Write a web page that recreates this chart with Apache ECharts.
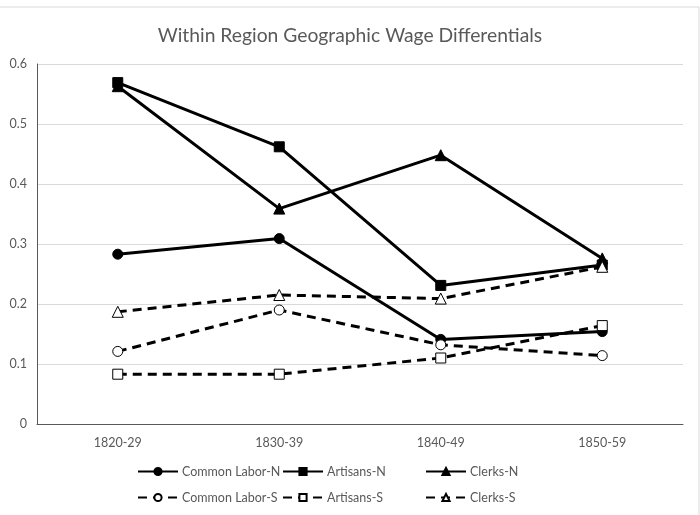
<!DOCTYPE html>
<html>
<head>
<meta charset="utf-8">
<script src="https://cdn.jsdelivr.net/npm/echarts@6/dist/echarts.min.js"></script>
<style>
  html, body { margin: 0; padding: 0; background: #fff; }
  #chart { width: 700px; height: 515px; }
</style>
</head>
<body>
<div id="chart"></div>
<script>
const periods = ["1820-29", "1830-39", "1840-49", "1850-59"];

const commonLaborN = [0.283, 0.309, 0.141, 0.154];
const artisansN = [0.569, 0.462, 0.231, 0.265];
const clerksN = [0.563, 0.359, 0.448, 0.276];
const commonLaborS = [0.121, 0.19, 0.132, 0.114];
const artisansS = [0.083, 0.083, 0.11, 0.164];
const clerksS = [0.187, 0.215, 0.209, 0.262];

const seriesNames = [
  "Common Labor-N", "Artisans-N", "Clerks-N",
  "Common Labor-S", "Artisans-S", "Clerks-S",
];

const FONT = "Lato, 'Liberation Sans', sans-serif";
const GRAY = "#595959";

function makeSeries(name, data, symbol, south) {
  return {
    name: name,
    type: "line",
    data: data,
    symbol: symbol,
    symbolSize: symbol === "triangle" ? 11 : 10,
    showSymbol: true,
    lineStyle: {
      color: "#000",
      width: 3,
      type: south ? [9, 6] : "solid",
    },
    itemStyle: {
      color: south ? "#fff" : "#000",
      borderColor: "#000",
      borderWidth: 1,
    },
    emphasis: { disabled: true },
    animation: false,
  };
}

const chart = echarts.init(document.getElementById("chart"));

// one legend per entry so the columns line up like the original
const legendPos = [
  { left: 137, top: 465 },
  { left: 282, top: 465 },
  { left: 425, top: 465 },
  { left: 137, top: 491 },
  { left: 282, top: 491 },
  { left: 425, top: 491 },
];

const option = {
  backgroundColor: "#fff",
  title: {
    text: "Within Region Geographic Wage Differentials",
    left: "center",
    top: 21,
    textStyle: {
      color: GRAY,
      fontSize: 19.3,
      fontWeight: "normal",
      fontFamily: FONT,
    },
  },
  graphic: [
    {
      type: "rect",
      shape: { x: -2, y: 7, width: 701, height: 520 },
      style: { fill: "none", stroke: "#d9d9d9", lineWidth: 1 },
      silent: true,
    },
  ],
  grid: {
    left: 37,
    right: 17,
    top: 64,
    bottom: 91,
  },
  legend: legendPos.map((p, i) => ({
    data: [seriesNames[i]],
    left: p.left,
    top: p.top,
    itemWidth: 40,
    itemHeight: 9,
    itemGap: 0,
    padding: 0,
    selectedMode: false,
    textStyle: {
      color: GRAY,
      fontSize: 12.5,
      fontFamily: FONT,
      padding: [0, 0, 0, -1],
    },
  })),
  xAxis: {
    type: "category",
    data: periods,
    boundaryGap: true,
    axisLine: { lineStyle: { color: GRAY, width: 1 } },
    axisTick: { show: false },
    axisLabel: {
      color: GRAY,
      fontSize: 12.5,
      fontFamily: FONT,
      margin: 12,
    },
    splitLine: { show: false },
  },
  yAxis: {
    type: "value",
    min: 0,
    max: 0.6,
    interval: 0.1,
    axisLine: { show: true, lineStyle: { color: GRAY, width: 1 } },
    axisTick: { show: false },
    axisLabel: {
      color: GRAY,
      fontSize: 12.5,
      fontFamily: FONT,
      margin: 10,
      formatter: (v) => String(Math.round(v * 10) / 10),
    },
    splitLine: { lineStyle: { color: "#d9d9d9", width: 1 } },
  },
  series: [
    makeSeries("Common Labor-N", commonLaborN, "circle", false),
    makeSeries("Artisans-N", artisansN, "rect", false),
    makeSeries("Clerks-N", clerksN, "triangle", false),
    makeSeries("Common Labor-S", commonLaborS, "circle", true),
    makeSeries("Artisans-S", artisansS, "rect", true),
    makeSeries("Clerks-S", clerksS, "triangle", true),
  ],
};

chart.setOption(option);
</script>
</body>
</html>
